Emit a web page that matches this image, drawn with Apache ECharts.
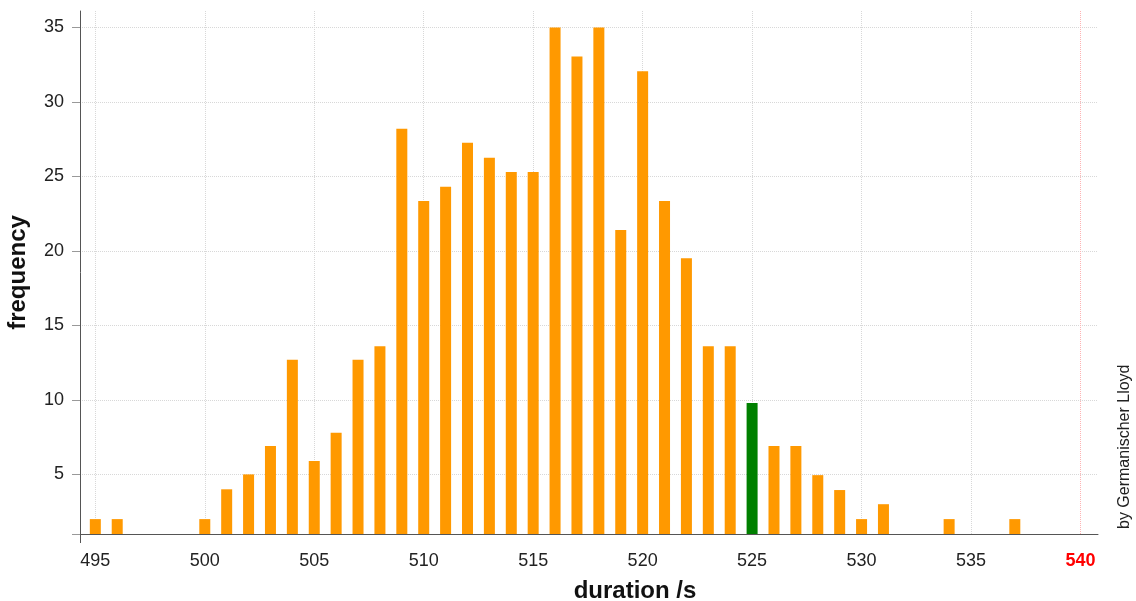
<!DOCTYPE html>
<html>
<head>
<meta charset="utf-8">
<script src="https://cdn.jsdelivr.net/npm/echarts@6/dist/echarts.min.js"></script>
<style>
    html, body { margin: 0; padding: 0; background: #fff; }
    #chart { width: 1136px; height: 601px; }
</style>
</head>
<body>
<div id="chart"></div>
<script>
let durations = [495, 496, 500, 501, 502, 503, 504, 505, 506, 507, 508, 509, 510, 511, 512,
    513, 514, 515, 516, 517, 518, 519, 520, 521, 522, 523, 524, 525, 526, 527, 528, 529,
    530, 531, 534, 537];
let frequencies = [2, 2, 2, 4, 5, 6.9, 12.7, 5.9, 7.8, 12.7, 13.6, 28.2, 23.35, 24.3, 27.25,
    26.25, 25.3, 25.3, 35, 33.05, 35, 21.4, 32.05, 23.35, 19.5, 13.6, 13.6, 9.8, 6.9, 6.9, 4.95, 3.95,
    2, 3, 2, 2];
let highlighted = 525;
let limit = 540;
let xTicks = [495, 500, 505, 510, 515, 520, 525, 530, 535, 540];
let yTicks = [5, 10, 15, 20, 25, 30, 35];

let xMin = 494.3, xMax = 540.8;
let yMin = 1, yMax = 36.1;

let font = "'Liberation Sans', Arial, sans-serif";

let myChart = echarts.init(document.getElementById('chart'));

let barData = durations.map(function (d, i)
{
    let item = {value: [d, frequencies[i]]};
    if (d === highlighted)
    {
        item.itemStyle = {color: '#008000'};
    }
    return item;
});

let option = {
    animation: false,
    grid: {left: 80, right: 38, top: 11, bottom: 67, outerBoundsMode: 'none', containLabel: false},
    xAxis: [{
        type: 'value',
        min: xMin,
        max: xMax,
        axisLine: {onZero: false, lineStyle: {color: '#555', width: 1}},
        axisTick: {show: true, customValues: xTicks, length: 0},
        axisLabel: {
            customValues: xTicks,
            margin: 18,
            fontFamily: font,
            fontSize: 18,
            color: '#222',
            formatter: function (v)
            {
                return v === limit ? '{red|' + v + '}' : String(v);
            },
            rich: {
                red: {color: '#ff0000', fontWeight: 'bold', fontFamily: font, fontSize: 18}
            }
        },
        splitLine: {show: true, lineStyle: {color: '#d8d8d8', type: 'dotted', width: 1}}
    }, {
        // only draws the small overhang of the y axis below the x axis
        type: 'value',
        position: 'bottom',
        min: xMin,
        max: xMax,
        axisLine: {show: false},
        axisTick: {show: true, customValues: [xMin], length: 9, lineStyle: {color: '#555'}},
        axisLabel: {show: false},
        splitLine: {show: false}
    }],
    yAxis: {
        type: 'value',
        min: yMin,
        max: yMax,
        name: 'frequency',
        nameLocation: 'middle',
        nameGap: 50,
        nameTextStyle: {fontFamily: font, fontSize: 24, fontWeight: 'bold', color: '#111'},
        axisLine: {show: true, lineStyle: {color: '#555', width: 1}},
        axisTick: {show: true, customValues: [yMin].concat(yTicks), length: 8, lineStyle: {color: '#999'}},
        axisLabel: {
            customValues: yTicks,
            margin: 16,
            fontFamily: font,
            fontSize: 18,
            color: '#222'
        },
        splitLine: {show: true, lineStyle: {color: '#d8d8d8', type: 'dotted', width: 1}}
    },
    graphic: [{
        type: 'text',
        x: 635,
        y: 591,
        style: {
            text: 'duration /s',
            font: 'bold 24px ' + font,
            fill: '#111',
            align: 'center',
            verticalAlign: 'middle'
        }
    }, {
        type: 'text',
        x: 1125,
        y: 529,
        rotation: Math.PI / 2,
        style: {
            text: 'by Germanischer Lloyd',
            font: '16px ' + font,
            fill: '#222',
            align: 'left',
            verticalAlign: 'middle'
        }
    }],
    series: [{
        type: 'bar',
        data: barData,
        barWidth: 11,
        itemStyle: {color: '#ff9900'},
        markLine: {
            silent: true,
            symbol: 'none',
            label: {show: false},
            lineStyle: {color: '#ffb3b3', type: 'dotted', width: 1},
            data: [{xAxis: limit}]
        }
    }]
};

myChart.setOption(option);
</script>
</body>
</html>
